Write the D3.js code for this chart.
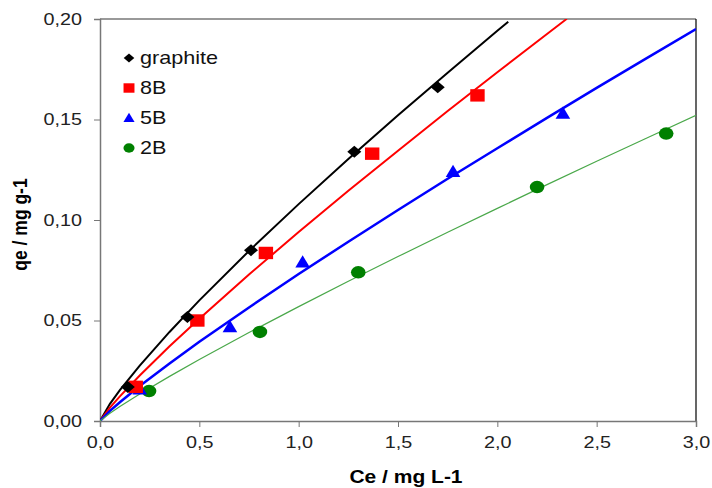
<!DOCTYPE html>
<html>
<head>
<meta charset="utf-8">
<script src="https://cdn.jsdelivr.net/npm/d3@7"></script>
<style>
  body { margin: 0; background: #fff; }
  svg text { font-family: "Liberation Sans", Arial, sans-serif; }
</style>
</head>
<body>
<div id="chart"></div>
<script>
'use strict';

// measured points
const graphiteCe = [0.14, 0.44, 0.76, 1.28, 1.70];
const graphiteQe = [0.0169, 0.0517, 0.085, 0.134, 0.166];
const b8Ce = [0.18, 0.49, 0.835, 1.37, 1.90];
const b8Qe = [0.017, 0.050, 0.0836, 0.133, 0.162];
const b5Ce = [0.20, 0.654, 1.02, 1.777, 2.33];
const b5Qe = [0.0158, 0.0468, 0.079, 0.124, 0.153];
const b2Ce = [0.247, 0.805, 1.30, 2.20, 2.85];
const b2Qe = [0.0149, 0.0443, 0.074, 0.1164, 0.143];

// fitted curves
const curveCe = [0, 0.05, 0.1, 0.2, 0.35, 0.5, 0.75, 1.0, 1.25, 1.5, 1.75, 2.0, 2.25, 2.5, 2.75, 3.0];
const graphiteFit = [0, 0.00853, 0.01535, 0.0276, 0.0443, 0.0600, 0.0846, 0.1079, 0.1303, 0.1521, 0.1733, 0.1941];
const graphiteEnd = [2.055, 0.1986];
const b8Fit = [0, 0.00666, 0.01228, 0.02266, 0.0372, 0.0509, 0.0729, 0.094, 0.1145, 0.1345, 0.1542, 0.1735, 0.1925];
const b8End = [2.35, 0.2001];
const b5Fit = [0, 0.00504, 0.00935, 0.01737, 0.0286, 0.0394, 0.0565, 0.0731, 0.0892, 0.1050, 0.1205, 0.1357, 0.1508, 0.1657, 0.1804, 0.1950];
const b2Fit = [0, 0.0039, 0.00725, 0.01348, 0.0222, 0.0306, 0.0440, 0.0569, 0.0695, 0.0818, 0.0939, 0.1058, 0.1176, 0.1292, 0.1407, 0.1521];

const xTicks = [0, 0.5, 1.0, 1.5, 2.0, 2.5, 3.0];
const yTicks = [0, 0.05, 0.10, 0.15, 0.20];

const series = [
  {name: 'graphite', ce: graphiteCe, qe: graphiteQe, fit: graphiteFit, end: graphiteEnd, color: '#000', lineColor: '#000', lw: 2, shape: 'diamond'},
  {name: '8B', ce: b8Ce, qe: b8Qe, fit: b8Fit, end: b8End, color: '#ff0000', lineColor: '#ff0000', lw: 2, shape: 'square'},
  {name: '5B', ce: b5Ce, qe: b5Qe, fit: b5Fit, end: null, color: '#0000ff', lineColor: '#0000ff', lw: 2.5, shape: 'triangle'},
  {name: '2B', ce: b2Ce, qe: b2Qe, fit: b2Fit, end: null, color: '#008000', lineColor: '#4aa84a', lw: 1.2, shape: 'circle'}
];

const W = 712, H = 488;
const margin = {top: 19, right: 16, bottom: 67, left: 100};
const width = W - margin.left - margin.right;
const height = H - margin.top - margin.bottom;
const SX = 1.2; // the original text is stretched sideways

const comma = d3.formatLocale({decimal: ',', thousands: '.', grouping: [3], currency: ['', '']});

const svg = d3.select('#chart').append('svg')
    .attr('width', W)
    .attr('height', H);

const g = svg.append('g')
    .attr('transform', `translate(${margin.left}, ${margin.top})`);

const x = d3.scaleLinear().domain([0, 3]).range([0, width]);
const y = d3.scaleLinear().domain([0, 0.2]).range([height, 0]);

svg.append('clipPath').attr('id', 'clip')
  .append('rect').attr('width', width).attr('height', height);

// frame
g.append('line').attr('x1', 0).attr('x2', width).attr('y1', 0).attr('y2', 0)
    .attr('stroke', '#777').attr('stroke-width', 1.5);
g.append('line').attr('x1', width).attr('x2', width).attr('y1', 0).attr('y2', height)
    .attr('stroke', '#000').attr('stroke-width', 1.2);

// axes
const xAxis = g.append('g')
    .attr('transform', `translate(0, ${height})`)
    .call(d3.axisBottom(x).tickValues(xTicks).tickFormat(comma.format('.1f')).tickSizeOuter(0).tickSize(6).tickPadding(9));
const yAxis = g.append('g')
    .call(d3.axisLeft(y).tickValues(yTicks).tickFormat(comma.format('.2f')).tickSizeOuter(0).tickSize(6));
[xAxis, yAxis].forEach(a => {
  a.select('.domain').attr('stroke', '#777').attr('stroke-width', 1.5);
  a.selectAll('.tick line').attr('stroke', '#777');
  a.selectAll('.tick text')
      .style('font-size', '16.5px')
      .attr('fill', '#222')
      .attr('transform', `scale(${SX},1)`);
});
yAxis.selectAll('.tick text').attr('x', -18 / SX);

// fit lines
const line = d3.line().x(d => x(d[0])).y(d => y(d[1]));
const plot = g.append('g').attr('clip-path', 'url(#clip)');
series.forEach(s => {
  const pts = s.fit.map((v, i) => [curveCe[i], v]);
  if (s.end) pts.push(s.end);
  plot.append('path')
      .datum(pts)
      .attr('fill', 'none')
      .attr('stroke', s.lineColor)
      .attr('stroke-width', s.lw)
      .attr('d', line);
});

// markers
function marker(sel, shape, color) {
  if (shape === 'diamond') {
    sel.append('path').attr('d', 'M0,-6L7,0L0,6L-7,0Z').attr('fill', color);
  } else if (shape === 'square') {
    sel.append('rect').attr('x', -7.2).attr('y', -6.2).attr('width', 14.4).attr('height', 12.4).attr('fill', color);
  } else if (shape === 'triangle') {
    sel.append('path').attr('d', 'M0,-7L7.3,5.3L-7.3,5.3Z').attr('fill', color);
  } else {
    sel.append('ellipse').attr('rx', 7.3).attr('ry', 6.2).attr('fill', color);
  }
}

series.slice().reverse().forEach(s => {
  s.ce.forEach((c, i) => {
    const m = g.append('g').attr('transform', `translate(${x(c)}, ${y(s.qe[i])})`);
    marker(m, s.shape, s.color);
  });
});

// legend
const legend = g.append('g').attr('transform', 'translate(29, 39)');
series.forEach((s, i) => {
  const row = legend.append('g').attr('transform', `translate(0, ${i * 30})`);
  const m = row.append('g').attr('transform', 'scale(0.76)');
  marker(m, s.shape, s.color);
  row.append('text')
      .attr('transform', `translate(11, 0) scale(${SX},1)`)
      .attr('dy', '0.36em')
      .style('font-size', '18px')
      .attr('fill', '#111')
      .text(s.name);
});

// axis titles
svg.append('text')
    .attr('transform', `translate(406, 483) scale(${SX},1)`)
    .attr('text-anchor', 'middle')
    .style('font-size', '17.5px')
    .style('font-weight', 'bold')
    .text('Ce / mg L-1');

svg.append('text')
    .attr('transform', `translate(27, 224.5) scale(${SX},1) rotate(-90)`)
    .attr('text-anchor', 'middle')
    .style('font-size', '17.5px')
    .style('font-weight', 'bold')
    .text('qe / mg g-1');
</script>
</body>
</html>
